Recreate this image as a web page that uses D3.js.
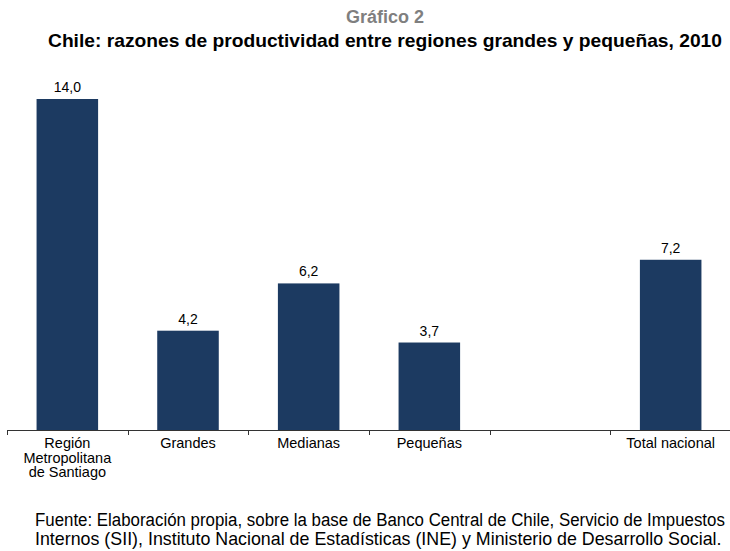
<!DOCTYPE html>
<html>
<head>
<meta charset="utf-8">
<script src="https://cdn.jsdelivr.net/npm/d3@7"></script>
<style>
  html, body { margin: 0; padding: 0; background: #fff; }
  svg { display: block; font-family: "Liberation Sans", Arial, sans-serif; }
</style>
</head>
<body>
<svg id="chart" width="730" height="551"></svg>
<script>
// Categories (the blank slot separates regional groups from the national total)
const categories = ["rm", "grandes", "medianas", "pequenas", "blank", "total"];
const categoryLabels = [
  ["Región", "Metropolitana", "de Santiago"],
  ["Grandes"],
  ["Medianas"],
  ["Pequeñas"],
  [""],
  ["Total nacional"]
];
const values = [14.0, 4.2, 6.2, 3.7, null, 7.2];

const titleText = "Gráfico 2";
const subtitleText = "Chile: razones de productividad entre regiones grandes y pequeñas, 2010";
const sourceLines = [
  "Fuente: Elaboración propia, sobre la base de Banco Central de Chile, Servicio de Impuestos",
  "Internos (SII), Instituto Nacional de Estadísticas (INE) y Ministerio de Desarrollo Social."
];

const svg = d3.select("#chart");
const fmt = v => d3.format(".1f")(v).replace(".", ",");

const x = d3.scaleBand().domain(categories).range([7, 731]).paddingInner(0.49).paddingOuter(0.245);
const y = d3.scaleLinear().domain([0, 14]).range([430, 99]);

// Titles
svg.append("text").attr("x", 385).attr("y", 23).attr("text-anchor", "middle")
  .attr("font-size", 18).attr("font-weight", "bold").attr("fill", "#7f7f7f").text(titleText);
svg.append("text").attr("x", 385).attr("y", 47).attr("text-anchor", "middle")
  .attr("font-size", 18.5).attr("font-weight", "bold").attr("fill", "#000")
  .attr("textLength", 674).attr("lengthAdjust", "spacingAndGlyphs").text(subtitleText);

// Bars
const data = categories.map((c, i) => ({ c, v: values[i], lab: categoryLabels[i] }));
const barData = data.filter(d => d.v != null);

svg.append("g").selectAll("rect").data(barData).join("rect")
  .attr("x", d => x(d.c))
  .attr("width", x.bandwidth())
  .attr("y", d => y(d.v))
  .attr("height", d => y(0) - y(d.v))
  .attr("fill", "#1c3a61");

// Value labels
svg.append("g").selectAll("text").data(barData).join("text")
  .attr("x", d => x(d.c) + x.bandwidth() / 2)
  .attr("y", d => y(d.v) - 7)
  .attr("text-anchor", "middle")
  .attr("font-size", 14)
  .attr("fill", "#000")
  .text(d => fmt(d.v));

// X axis with ticks between categories
const axisStart = 7;
const ax = svg.append("g");
ax.append("line").attr("x1", axisStart).attr("x2", 730).attr("y1", 430.5).attr("y2", 430.5)
  .attr("stroke", "#333").attr("stroke-width", 1);
d3.range(categories.length + 1).forEach(i => {
  const tx = Math.round(axisStart + i * (724 / categories.length)) + 0.5;
  ax.append("line").attr("x1", tx).attr("x2", tx).attr("y1", 430).attr("y2", 435)
    .attr("stroke", "#333").attr("stroke-width", 1);
});

// Category labels
data.forEach(d => {
  const cx = x(d.c) + x.bandwidth() / 2;
  const t = svg.append("text").attr("text-anchor", "middle").attr("font-size", 14.5).attr("fill", "#000");
  d.lab.forEach((line, j) => {
    t.append("tspan").attr("x", cx).attr("y", 448 + j * 14.5).text(line);
  });
});

// Source note: tall glyphs, horizontally condensed to fit the line width
const sourceWidths = [690, 687];
sourceLines.forEach((line, i) => {
  const t = svg.append("text")
    .attr("font-size", 18).attr("fill", "#000")
    .text(line);
  const natural = t.node().getComputedTextLength();
  const sx = Math.min(1, sourceWidths[i] / natural);
  t.attr("transform", `translate(35,${526 + i * 19}) scale(${sx},1)`);
});
</script>
</body>
</html>
